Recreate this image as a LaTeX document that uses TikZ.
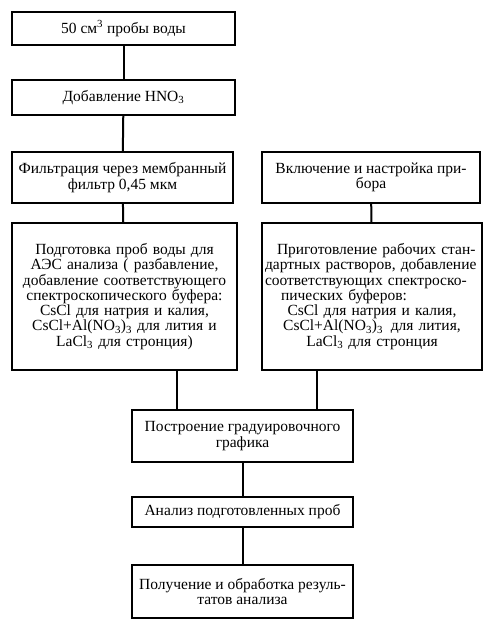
\documentclass[tikz,border=0pt]{standalone}
\usepackage{fontspec}
\setmainfont{Liberation Serif}
\usetikzlibrary{positioning}
\tikzset{
  every node/.style={font=\fontsize{15.5}{15.3}\selectfont},
  stepbox/.style={draw, line width=2pt, align=center, inner sep=2pt},
  link/.style={line width=2pt},
}
\newcommand{\leftpart}[1]{\leavevmode\hbox to 214pt{#1\hfil}}

\begin{document}
\begin{tikzpicture}[x=1pt, y=-1pt]
\useasboundingbox (0,0) rectangle (494,631);

% left branch
\node[stepbox, minimum width=223pt, minimum height=33pt] (sample) at (123.5,28.5) {50 см\textsuperscript{3} пробы воды};
\node[stepbox, minimum width=223pt, minimum height=35pt] (acid) at (123.5,97.5) {Добавление HNO\textsubscript{3}};
\node[stepbox, minimum width=221pt, minimum height=51pt] (filter) at (122.5,177.5) {Фильтрация через мембранный\\ фильтр 0,45 мкм};
\node[stepbox, minimum width=225pt, minimum height=147pt, text width=217pt] (prep) at (124.5,296.5)
  {Подготовка проб воды для\\ АЭС анализа ( разбавление,\\ добавление соответствующего\\ спектроскопического буфера:\\
   CsCl для натрия и калия,\\ CsCl+Al(NO\textsubscript{3})\textsubscript{3} для лития и\\ LaCl\textsubscript{3} для стронция)};

% right branch
\node[stepbox, minimum width=218pt, minimum height=51pt] (device) at (371,177.5) {Включение и настройка при-\\ бора};
\node[stepbox, minimum width=220pt, minimum height=147pt, text width=214pt] (standards) at (372,296.5)
  {\leftpart{\hspace{12pt}Приготовление рабочих стан-}\\ \leftpart{дартных растворов, добавление}\\ \leftpart{соответствующих спектроско-}\\
   \leftpart{\hspace{16pt}пических буферов:}\\ CsCl для натрия и калия,\\ CsCl+Al(NO\textsubscript{3})\textsubscript{3}\, для лития,\\ LaCl\textsubscript{3} для стронция};

% common part
\node[stepbox, minimum width=221pt, minimum height=52pt] (calib) at (242.5,436) {Построение градуировочного\\ графика};
\node[stepbox, minimum width=221pt, minimum height=30pt] (analysis) at (242.5,512) {Анализ подготовленных проб};
\node[stepbox, minimum width=221pt, minimum height=53pt] (result) at (242.5,591.5) {Получение и обработка резуль-\\ татов анализа};

\coordinate (joinL) at (177,400);
\coordinate (joinR) at (317,400);

\draw[link] (sample) -- (acid);
\draw[link] (acid) -- (filter);
\draw[link] (filter) -- (prep);
\draw[link] (device) -- (standards);
\draw[link] (prep.south -| joinL) -- (calib.north -| joinL);
\draw[link] (standards.south -| joinR) -- (calib.north -| joinR);
\draw[link] (calib) -- (analysis);
\draw[link] (analysis) -- (result);

\end{tikzpicture}
\end{document}
